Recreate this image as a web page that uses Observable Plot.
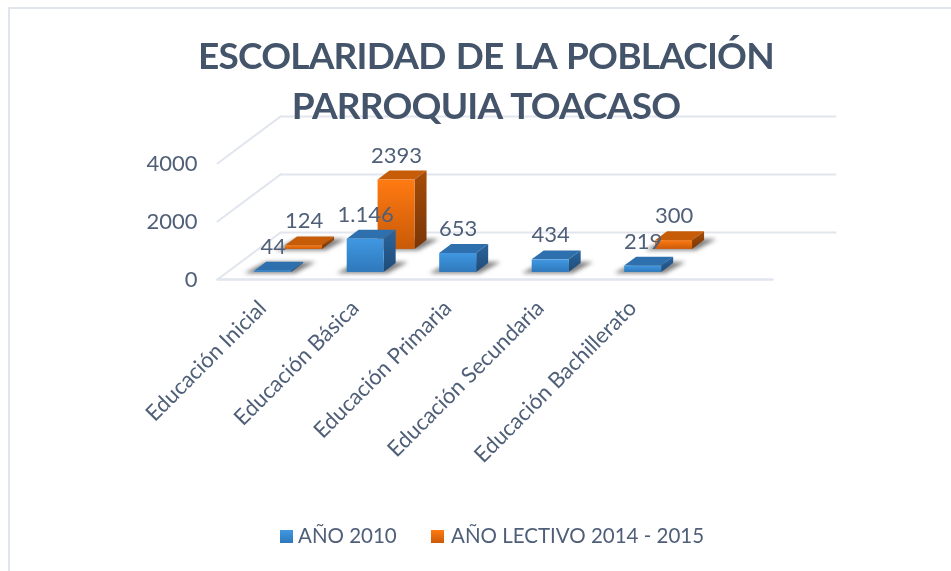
<!DOCTYPE html>
<html lang="es">
<head>
<meta charset="utf-8">
<script src="https://cdn.jsdelivr.net/npm/d3@7"></script>
<script src="https://cdn.jsdelivr.net/npm/@observablehq/plot@0.6"></script>
<style>
  html, body { margin: 0; padding: 0; background: #fff; overflow: hidden; }
  #page { position: relative; width: 951px; height: 571px; font-family: Lato, sans-serif; color: #44546a; filter: blur(0.35px); }
  #frame { position: absolute; left: 8px; top: 7px; right: 0; bottom: 0; border-top: 2px solid #e1e5ee; border-left: 2px solid #e1e5ee; }
  #chart { position: absolute; left: 0; top: 0; }
  #title { position: absolute; left: 0; top: 30px; width: 972px; text-align: center; font-weight: 700; font-size: 37px; letter-spacing: -0.8px; word-spacing: 2px; line-height: 50px; margin: 0; color: #44546a; }
  #legend { position: absolute; left: 0; top: 521px; width: 951px; height: 28px; font-size: 20.5px; color: #4f5f78; }
  #legend span { position: absolute; top: 0; line-height: 28px; white-space: nowrap; }
  #legend i { position: absolute; top: 9px; width: 13px; height: 13px; }
</style>
</head>
<body>
<div id="page">
  <div id="frame"></div>
  <div id="chart"></div>
  <h1 id="title"></h1>
  <div id="legend"></div>
</div>
<script>
const titleLines = ["ESCOLARIDAD DE LA POBLACIÓN", "PARROQUIA TOACASO"];
const categories = ["Educación Inicial", "Educación Básica", "Educación Primaria", "Educación Secundaria", "Educación Bachillerato"];
const seriesNames = ["AÑO 2010", "AÑO LECTIVO 2014 - 2015"];
const values2010 = [44, 1146, 653, 434, 219];
const labels2010 = ["44", "1.146", "653", "434", "219"];
const values2014 = [124, 2393, null, null, 300];
const labels2014 = ["124", "2393", "", "", "300"];
const yTicks = [0, 2000, 4000];

// Oblique 3D projection of the chart box, expressed in data units
const slots = 6;            // category slots on the floor (the last one is empty)
const depthX = 0.681;       // horizontal shift, in category units, from front to back wall
const depthY = 1620;        // vertical shift, in value units, from front to back wall
const barStart = 0.3, barWidth = 0.4;
const barDepth = 0.19;

const px = (i, u, z) => i + barStart + u * barWidth + z * depthX;
const py = (v, z) => v + z * depthY;

function faces(values, labels, z0) {
  const z1 = z0 + barDepth;
  const bars = [];
  values.forEach((v, i) => { if (v != null) bars.push({i, v, label: labels[i]}); });
  const front = bars.map(b => ({x1: px(b.i, 0, z0), x2: px(b.i, 1, z0), y1: py(0, z0), y2: py(b.v, z0), cx: px(b.i, .5, z0), label: b.label}));
  const top = bars.flatMap(b => [
    {id: b.i, y: py(b.v, z0), x1: px(b.i, 0, z0), x2: px(b.i, 1, z0)},
    {id: b.i, y: py(b.v, z1), x1: px(b.i, 0, z1), x2: px(b.i, 1, z1)}
  ]);
  const side = bars.flatMap(b => [
    {id: b.i, x: px(b.i, 1, z0), y1: py(0, z0), y2: py(b.v, z0)},
    {id: b.i, x: px(b.i, 1, z1), y1: py(0, z1), y2: py(b.v, z1)}
  ]);
  const shadow = bars.flatMap(b => [
    {id: b.i, y: py(0, z0 - 0.03), x1: px(b.i, -0.22, z0 - 0.03), x2: px(b.i, 1.15, z0 - 0.03)},
    {id: b.i, y: py(0, z1 + 0.02), x1: px(b.i, -0.05, z1 + 0.02), x2: px(b.i, 1.3, z1 + 0.02)}
  ]);
  return {front, top, side, shadow};
}

const blue = faces(values2010, labels2010, 0.15);
const orange = faces(values2014, labels2014, 0.64);

function barMarks(f, colors) {
  return [
    Plot.areaX(f.shadow, {y: "y", x1: "x1", x2: "x2", z: "id", fill: "#555", fillOpacity: 0.75, imageFilter: "blur(2px)"}),
    Plot.areaX(f.top, {y: "y", x1: "x1", x2: "x2", z: "id", fill: colors.top}),
    Plot.areaY(f.side, {x: "x", y1: "y1", y2: "y2", z: "id", fill: colors.side}),
    Plot.rect(f.front, {x1: "x1", x2: "x2", y1: "y1", y2: "y2", fill: colors.front})
  ];
}

const gridColor = "#e1e5ee";
const backLines = yTicks.flatMap(v => [{g: v, x: depthX, y: py(v, 1)}, {g: v, x: slots + depthX, y: py(v, 1)}]);
const sideLines = yTicks.flatMap(v => [{g: v, x: 0, y: py(v, 0)}, {g: v, x: depthX, y: py(v, 1)}]);
const floorFront = [{x: 0, y: 0}, {x: slots, y: 0}];

const defs = () => {
  const svg = d3.create("svg:g");
  const d = svg.append("defs");
  const grad = (id, a, b) => {
    const g = d.append("linearGradient").attr("id", id).attr("x1", 0).attr("y1", 0).attr("x2", 0).attr("y2", 1);
    g.append("stop").attr("offset", 0).attr("stop-color", a);
    g.append("stop").attr("offset", 1).attr("stop-color", b);
  };
  grad("blueFront", "#3f98e2", "#2f78bb");
  grad("blueSide", "#2a659d", "#1f4c78");
  grad("orangeFront", "#ff7a12", "#c95a08");
  grad("orangeSide", "#a64c08", "#7a3606");
  return svg.node();
};

const labelStyle = {fill: "#4f5f78", fontSize: 22, fontFamily: "Lato, sans-serif"};

const plot = Plot.plot({
  width: 951,
  height: 571,
  marginLeft: 217,
  marginRight: 179,
  marginTop: 163,
  marginBottom: 292,
  style: {background: "transparent", overflow: "visible"},
  x: {type: "linear", domain: [0, slots], axis: null},
  y: {type: "linear", domain: [0, 4000], axis: null},
  marks: [
    defs,
    Plot.line(backLines, {x: "x", y: "y", z: "g", stroke: gridColor, strokeWidth: 2}),
    Plot.line(sideLines, {x: "x", y: "y", z: "g", stroke: gridColor, strokeWidth: 2}),
    Plot.line(floorFront, {x: "x", y: "y", stroke: gridColor, strokeWidth: 2.5}),
    ...barMarks(orange, {top: "#c65b08", side: "url(#orangeSide)", front: "url(#orangeFront)"}),
    ...barMarks(blue, {top: "#2e70ad", side: "url(#blueSide)", front: "url(#blueFront)"}),
    Plot.text(orange.front, {x: "cx", y: "y2", text: "label", dy: -24.5, ...labelStyle}),
    Plot.text(blue.front, {x: "cx", y: "y2", text: "label", dy: -24.5, ...labelStyle}),
    Plot.axisY({ticks: yTicks, tickFormat: d => String(d), tickSize: 0, tickPadding: 20, anchor: "left", label: null, color: "#4f5f78", fontSize: 22, fontFamily: "Lato, sans-serif"}),
    Plot.text(categories, {
      x: (d, i) => i + 0.5, y: () => 0, text: d => d,
      rotate: -45, textAnchor: "end", dx: -1, dy: 25, ...labelStyle
    })
  ]
});
document.getElementById("chart").append(plot);

const title = document.getElementById("title");
titleLines.forEach((t, i) => { if (i) title.append(document.createElement("br")); title.append(t); });

const legend = document.getElementById("legend");
[[280, 298, "linear-gradient(#3f98e2,#2f78bb)"], [431, 451, "linear-gradient(#ff7a12,#c95a08)"]].forEach(([sx, tx, bg], i) => {
  const sw = document.createElement("i"); sw.style.left = sx + "px"; sw.style.background = bg; legend.append(sw);
  const s = document.createElement("span"); s.style.left = tx + "px"; s.textContent = seriesNames[i]; legend.append(s);
});
</script>
</body>
</html>
